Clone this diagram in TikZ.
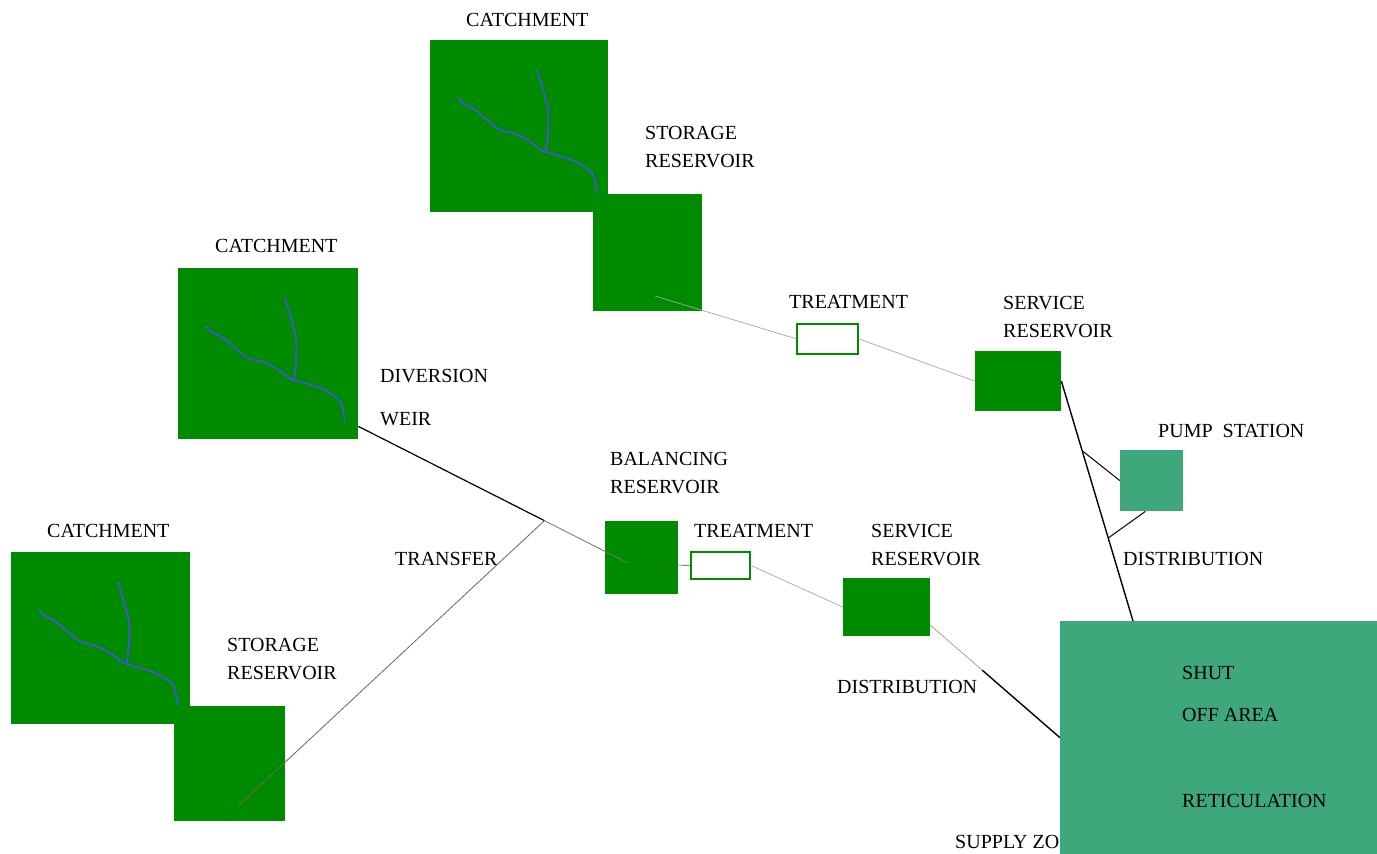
\documentclass[tikz,border=0pt]{standalone}
\usepackage{fontspec}
\setmainfont{Liberation Serif}
\usepackage{tikz}
\usetikzlibrary{calc}
\definecolor{basingreen}{RGB}{0,138,0}
\definecolor{zoneteal}{RGB}{62,167,124}
\definecolor{riverblue}{RGB}{66,84,218}

\begin{document}
\begin{tikzpicture}[x=1pt, y=-1pt, font=\fontsize{20}{28}\selectfont,
    basin/.style={fill=basingreen, inner sep=0, anchor=north west},
    works/.style={draw=basingreen, line width=1.5pt, fill=white, inner sep=0, anchor=north west},
    zonebox/.style={fill=zoneteal, inner sep=0, anchor=north west},
    lbl/.style={inner sep=0, anchor=north west, align=left},
    pipe/.style={black!35, line width=0.7pt},
    main/.style={black, line width=1.4pt},
    river/.style={riverblue, line width=1.7pt, line cap=round}]
    \useasboundingbox (0,0) rectangle (1377,854);

    % catchments and storage
    \node[basin, minimum width=178pt, minimum height=172pt] (catA) at (430,40) {};
    \node[basin, minimum width=180pt, minimum height=171pt] (catB) at (178,268) {};
    \node[basin, minimum width=179pt, minimum height=172pt] (catC) at (11,552) {};
    \foreach \c in {catA,catB,catC} {
        \draw[river, shift={(\c.north west)}] plot[smooth, tension=0.4] coordinates
            {(28,58) (34,64) (44,69) (57,80) (70,90) (82,93) (90,96) (102,103) (113,111)
             (130,116) (147,122) (156,128) (162,133) (165,142) (167,153)};
        \draw[river, shift={(\c.north west)}] plot[smooth, tension=0.5] coordinates
            {(107,30) (113,50) (118,70) (118,92) (116,111)};
    }
    \node[basin, minimum width=109pt, minimum height=117pt] (storA) at (593,194) {};
    \node[basin, minimum width=111pt, minimum height=115pt] (storC) at (174,706) {};

    \node[lbl] (catAlbl) at (466,13) {CATCHMENT};
    \node[lbl] (catBlbl) at (215,239) {CATCHMENT};
    \node[lbl] (catClbl) at (47,524) {CATCHMENT};
    \node[lbl] (storAlbl) at (645,126) {STORAGE\\RESERVOIR};
    \node[lbl] (storClbl) at (227,638) {STORAGE\\RESERVOIR};
    \node[lbl] (weirlbl) at (380,369) {DIVERSION\\[15pt]WEIR};
    \node[lbl] (translbl) at (395,552) {TRANSFER};

    % works
    \node[basin, minimum width=73pt, minimum height=73pt] (bal) at (605,521) {};
    \node[works, minimum width=59pt, minimum height=27pt] (treatB) at (690,551) {};
    \node[basin, minimum width=87pt, minimum height=58pt] (servB) at (843,578) {};
    \node[works, minimum width=61pt, minimum height=30pt] (treatA) at (796,323) {};
    \node[basin, minimum width=86pt, minimum height=60pt] (servA) at (975,351) {};
    \node[zonebox, minimum width=63pt, minimum height=61pt] (pump) at (1120,450) {};

    \node[lbl] (ballbl) at (610,452) {BALANCING\\RESERVOIR};
    \node[lbl] (treatBlbl) at (694,524) {TREATMENT};
    \node[lbl] (servBlbl) at (871,524) {SERVICE\\RESERVOIR};
    \node[lbl] (distBlbl) at (837,680) {DISTRIBUTION};
    \node[lbl] (treatAlbl) at (789,295) {TREATMENT};
    \node[lbl] (servAlbl) at (1003,296) {SERVICE\\RESERVOIR};
    \node[lbl] (pumplbl) at (1158,424) {PUMP\ \ STATION};
    \node[lbl] (distAlbl) at (1123,552) {DISTRIBUTION};

    % supply zone
    \node[lbl] (zonelbl) at (955,835) {SUPPLY ZONE};
    \node[zonebox, minimum width=317pt, minimum height=233pt] (zone) at (1060,621) {};
    \node[lbl] (shutlbl) at (1182,666) {SHUT\\[14pt]OFF AREA};
    \node[lbl] (retlbl) at (1182,794) {RETICULATION};

    % connectors
    \coordinate (storAout) at (655,296);
    \coordinate (storCout) at (237,807);
    \coordinate (weirS) at ($(catB.south east)+(0,-13)$);
    \coordinate (balIn) at (628,563);
    \coordinate (balOut) at (655,565);
    \coordinate (zoneTop) at ($(zone.north west)+(73,0)$);
    \coordinate (servBout) at ($(servB.east)+(0,18)$);
    \coordinate (junction) at ($(weirS)!0.69!(balIn)$);
    \coordinate (tapA) at ($(servA.east)!0.29!(zoneTop)$);
    \coordinate (tapB) at ($(servA.east)!0.654!(zoneTop)$);

    \draw[pipe] (storAout) -- (treatA.west);
    \draw[pipe] (treatA.east) -- (servA.west);
    \draw[main] (servA.east) -- (zoneTop);
    \draw[black, line width=1pt] (tapA) -- (pump.west);
    \draw[black, line width=1pt] (tapB) -- ($(pump.south west)!0.4!(pump.south east)$);

    \draw[black, line width=1.2pt] (weirS) -- (junction);
    \draw[black!55, line width=0.8pt] (junction) -- (balIn);
    \draw[black!60, line width=0.8pt] (storCout) -- (junction);
    \draw[black!70, line width=0.6pt] (balOut) -- (treatB.west);
    \draw[pipe] (treatB.east) -- (servB.west);
    \draw[black!45, line width=0.6pt] (servBout) -- ($(servBout)!0.4!(zone.west)$);
    \draw[black, line width=1.4pt] ($(servBout)!0.4!(zone.west)$) -- (zone.west);
\end{tikzpicture}
\end{document}
